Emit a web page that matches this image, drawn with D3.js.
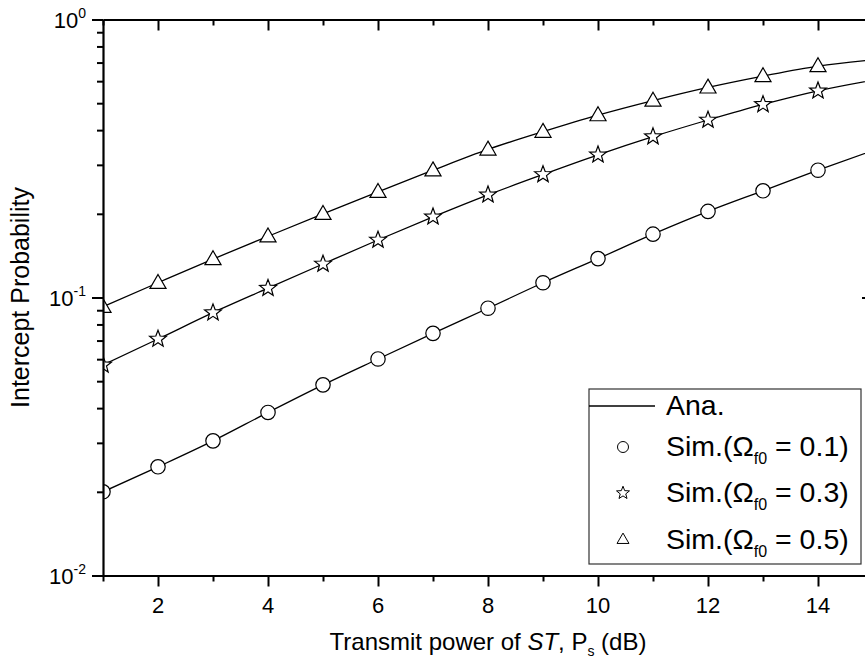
<!DOCTYPE html>
<html>
<head>
<meta charset="utf-8">
<script src="https://cdn.jsdelivr.net/npm/d3@7"></script>
<style>
  html, body { margin: 0; padding: 0; background: #fff; }
  svg { display: block; font-family: "Liberation Sans", Arial, sans-serif; }
</style>
</head>
<body>
<svg id="chart" width="865" height="666"></svg>
<script>
// Transmit power of ST (dB) at which the simulation points were taken
const simPower = [1, 2, 3, 4, 5, 6, 7, 8, 9, 10, 11, 12, 13, 14];
// Simulated intercept probability for each Omega_f0
const simOmega01 = [0.0200, 0.0246, 0.0305, 0.0386, 0.0485, 0.0601, 0.0743, 0.0915, 0.113, 0.138, 0.169, 0.204, 0.242, 0.287];
const simOmega03 = [0.0572, 0.0709, 0.0882, 0.108, 0.132, 0.161, 0.195, 0.234, 0.277, 0.326, 0.379, 0.435, 0.495, 0.554];
const simOmega05 = [0.0926, 0.113, 0.1375, 0.166, 0.200, 0.240, 0.287, 0.341, 0.395, 0.453, 0.511, 0.570, 0.626, 0.680];

// Analytical curves over the full power range
const anaPower = [1, 2, 3, 4, 5, 6, 7, 8, 9, 10, 11, 12, 13, 14, 15];
const anaOmega01 = [0.0200, 0.0246, 0.0305, 0.0386, 0.0485, 0.0601, 0.0743, 0.0915, 0.113, 0.138, 0.169, 0.204, 0.242, 0.287, 0.338];
const anaOmega03 = [0.0572, 0.0709, 0.0882, 0.108, 0.132, 0.161, 0.195, 0.234, 0.277, 0.326, 0.379, 0.435, 0.495, 0.554, 0.605];
const anaOmega05 = [0.0926, 0.113, 0.1375, 0.166, 0.200, 0.240, 0.287, 0.341, 0.395, 0.453, 0.511, 0.570, 0.626, 0.680, 0.716];

// Axis ticks
const xMajorTicks = [2, 4, 6, 8, 10, 12, 14];
const xMinorTicks = [1, 3, 5, 7, 9, 11, 13, 15];
const yDecadeTicks = [0.01, 0.1, 1];
const yDecadeExponents = ["-2", "-1", "0"];

const legendLabels = ["Ana.", "0.1", "0.3", "0.5"];

const svg = d3.select("#chart");
const plot = { left: 103, right: 873, top: 19.5, bottom: 575.5 };

const x = d3.scaleLinear().domain([1, 15]).range([plot.left, plot.right]);
const y = d3.scaleLog().domain([0.01, 1]).range([plot.bottom, plot.top]);

// minor log ticks 2..9 within each decade
const yMinorTicks = [];
[0.01, 0.1].forEach(d => { for (let k = 2; k <= 9; k++) yMinorTicks.push(+(d * k).toPrecision(3)); });

svg.append("defs").append("clipPath").attr("id", "plotClip")
  .append("rect")
  .attr("x", plot.left).attr("y", plot.top)
  .attr("width", plot.right - plot.left).attr("height", plot.bottom - plot.top);

// ---------- series ----------
const series = [
  { ana: anaOmega01, sim: simOmega01, shape: "circle" },
  { ana: anaOmega03, sim: simOmega03, shape: "star" },
  { ana: anaOmega05, sim: simOmega05, shape: "triangle" }
];

const line = d3.line().x(d => x(d[0])).y(d => y(d[1])).curve(d3.curveMonotoneX);

function starPath(R, r) {
  const pts = [];
  for (let i = 0; i < 10; i++) {
    const a = -Math.PI / 2 + i * Math.PI / 5;
    const rad = i % 2 === 0 ? R : r;
    pts.push([rad * Math.cos(a), rad * Math.sin(a)]);
  }
  return "M" + pts.map(p => p[0].toFixed(2) + "," + p[1].toFixed(2)).join("L") + "Z";
}
const symbolPath = {
  circle: d3.symbol().type(d3.symbolCircle).size(Math.PI * 7.2 * 7.2)(),
  triangle: d3.symbol().type(d3.symbolTriangle).size(112)(),
  star: starPath(8.8, 3.7)
};

const gData = svg.append("g").attr("clip-path", "url(#plotClip)");
series.forEach(s => {
  gData.append("path")
    .datum(anaPower.map((p, i) => [p, s.ana[i]]))
    .attr("d", line)
    .attr("fill", "none").attr("stroke", "#000").attr("stroke-width", 1.3);
});
series.forEach(s => {
  gData.selectAll(null)
    .data(simPower.map((p, i) => [p, s.sim[i]]))
    .join("path")
    .attr("d", symbolPath[s.shape])
    .attr("transform", d => `translate(${x(d[0])},${y(d[1]) + (s.shape === "triangle" ? 1 : 0)})`)
    .attr("fill", "#fff").attr("stroke", "#000").attr("stroke-width", 1.2);
});

// ---------- axes ----------
function styleAxis(g) {
  g.select(".domain").attr("stroke", "#000").attr("stroke-width", 2.2);
  g.selectAll(".tick line").attr("stroke", "#000").attr("stroke-width", 2);
  g.selectAll(".tick text").remove();
}
function drawTicks(axisFn, transform, major, minor) {
  svg.append("g").attr("transform", transform)
    .call(axisFn.tickValues(major).tickSize(11).tickSizeOuter(0).tickFormat(""))
    .call(styleAxis);
  svg.append("g").attr("transform", transform)
    .call(axisFn.tickValues(minor).tickSize(6).tickSizeOuter(0).tickFormat(""))
    .call(g => g.select(".domain").remove())
    .call(styleAxis);
}
drawTicks(d3.axisBottom(x), `translate(0,${plot.bottom})`, xMajorTicks, xMinorTicks);
drawTicks(d3.axisBottom(x), `translate(0,${plot.top})`, xMajorTicks, xMinorTicks);   // top, ticks inward
drawTicks(d3.axisLeft(y), `translate(${plot.left},0)`, yDecadeTicks, yMinorTicks);
drawTicks(d3.axisLeft(y), `translate(${plot.right},0)`, yDecadeTicks, yMinorTicks); // right, ticks inward

// x tick labels
svg.append("g").selectAll("text")
  .data(xMajorTicks).join("text")
  .attr("x", d => x(d)).attr("y", plot.bottom + 37)
  .attr("text-anchor", "middle").attr("font-size", 22).attr("fill", "#000")
  .text(d => d);

// y tick labels: 10 with superscript exponent
yDecadeTicks.forEach((v, i) => {
  const t = svg.append("text")
    .attr("x", 86).attr("y", y(v) + 8.5)
    .attr("text-anchor", "end").attr("font-size", 22).attr("fill", "#000");
  t.append("tspan").text("10");
  t.append("tspan").attr("font-size", 14).attr("dy", -10).text(yDecadeExponents[i]);
});

// axis titles
const xt = svg.append("text")
  .attr("x", 488).attr("y", 650)
  .attr("text-anchor", "middle").attr("font-size", 24).attr("fill", "#000");
xt.append("tspan").text("Transmit power of ");
xt.append("tspan").attr("font-style", "italic").text("ST");
xt.append("tspan").text(", P");
xt.append("tspan").attr("font-size", 14).attr("dy", 6).text("s");
xt.append("tspan").attr("dy", -6).text(" (dB)");

svg.append("text")
  .attr("transform", `translate(29,${(plot.top + plot.bottom) / 2}) rotate(-90)`)
  .attr("text-anchor", "middle").attr("font-size", 25).attr("fill", "#000")
  .text("Intercept Probability");

// ---------- legend ----------
const lg = svg.append("g");
lg.append("rect")
  .attr("x", 589).attr("y", 389).attr("width", 272).attr("height", 175)
  .attr("fill", "#fff").attr("stroke", "#333").attr("stroke-width", 1.2);

const rowBaselines = [415, 456, 502, 549];
const markerX = 623, textX = 666;
lg.append("line")
  .attr("x1", 589).attr("x2", 655).attr("y1", 406).attr("y2", 406)
  .attr("stroke", "#000").attr("stroke-width", 1.3);

const legendShapes = [null, "circle", "star", "triangle"];
const legendSymbols = {
  circle: d3.symbol().type(d3.symbolCircle).size(Math.PI * 5.5 * 5.5)(),
  triangle: d3.symbol().type(d3.symbolTriangle).size(62)(),
  star: starPath(6.8, 2.9)
};
legendLabels.forEach((lab, i) => {
  const by = rowBaselines[i];
  if (legendShapes[i]) {
    lg.append("path")
      .attr("d", legendSymbols[legendShapes[i]])
      .attr("transform", `translate(${markerX},${by - 9})`)
      .attr("fill", "#fff").attr("stroke", "#000").attr("stroke-width", 1);
  }
  const t = lg.append("text").attr("x", textX).attr("y", by)
    .attr("font-size", 28.5).attr("fill", "#000");
  if (i === 0) {
    t.text(lab);
  } else {
    t.append("tspan").text("Sim.(\u03A9");
    t.append("tspan").attr("font-size", 16).attr("dy", 8).text("f0");
    t.append("tspan").attr("dy", -8).text(" = " + lab + ")");
  }
});
</script>
</body>
</html>
